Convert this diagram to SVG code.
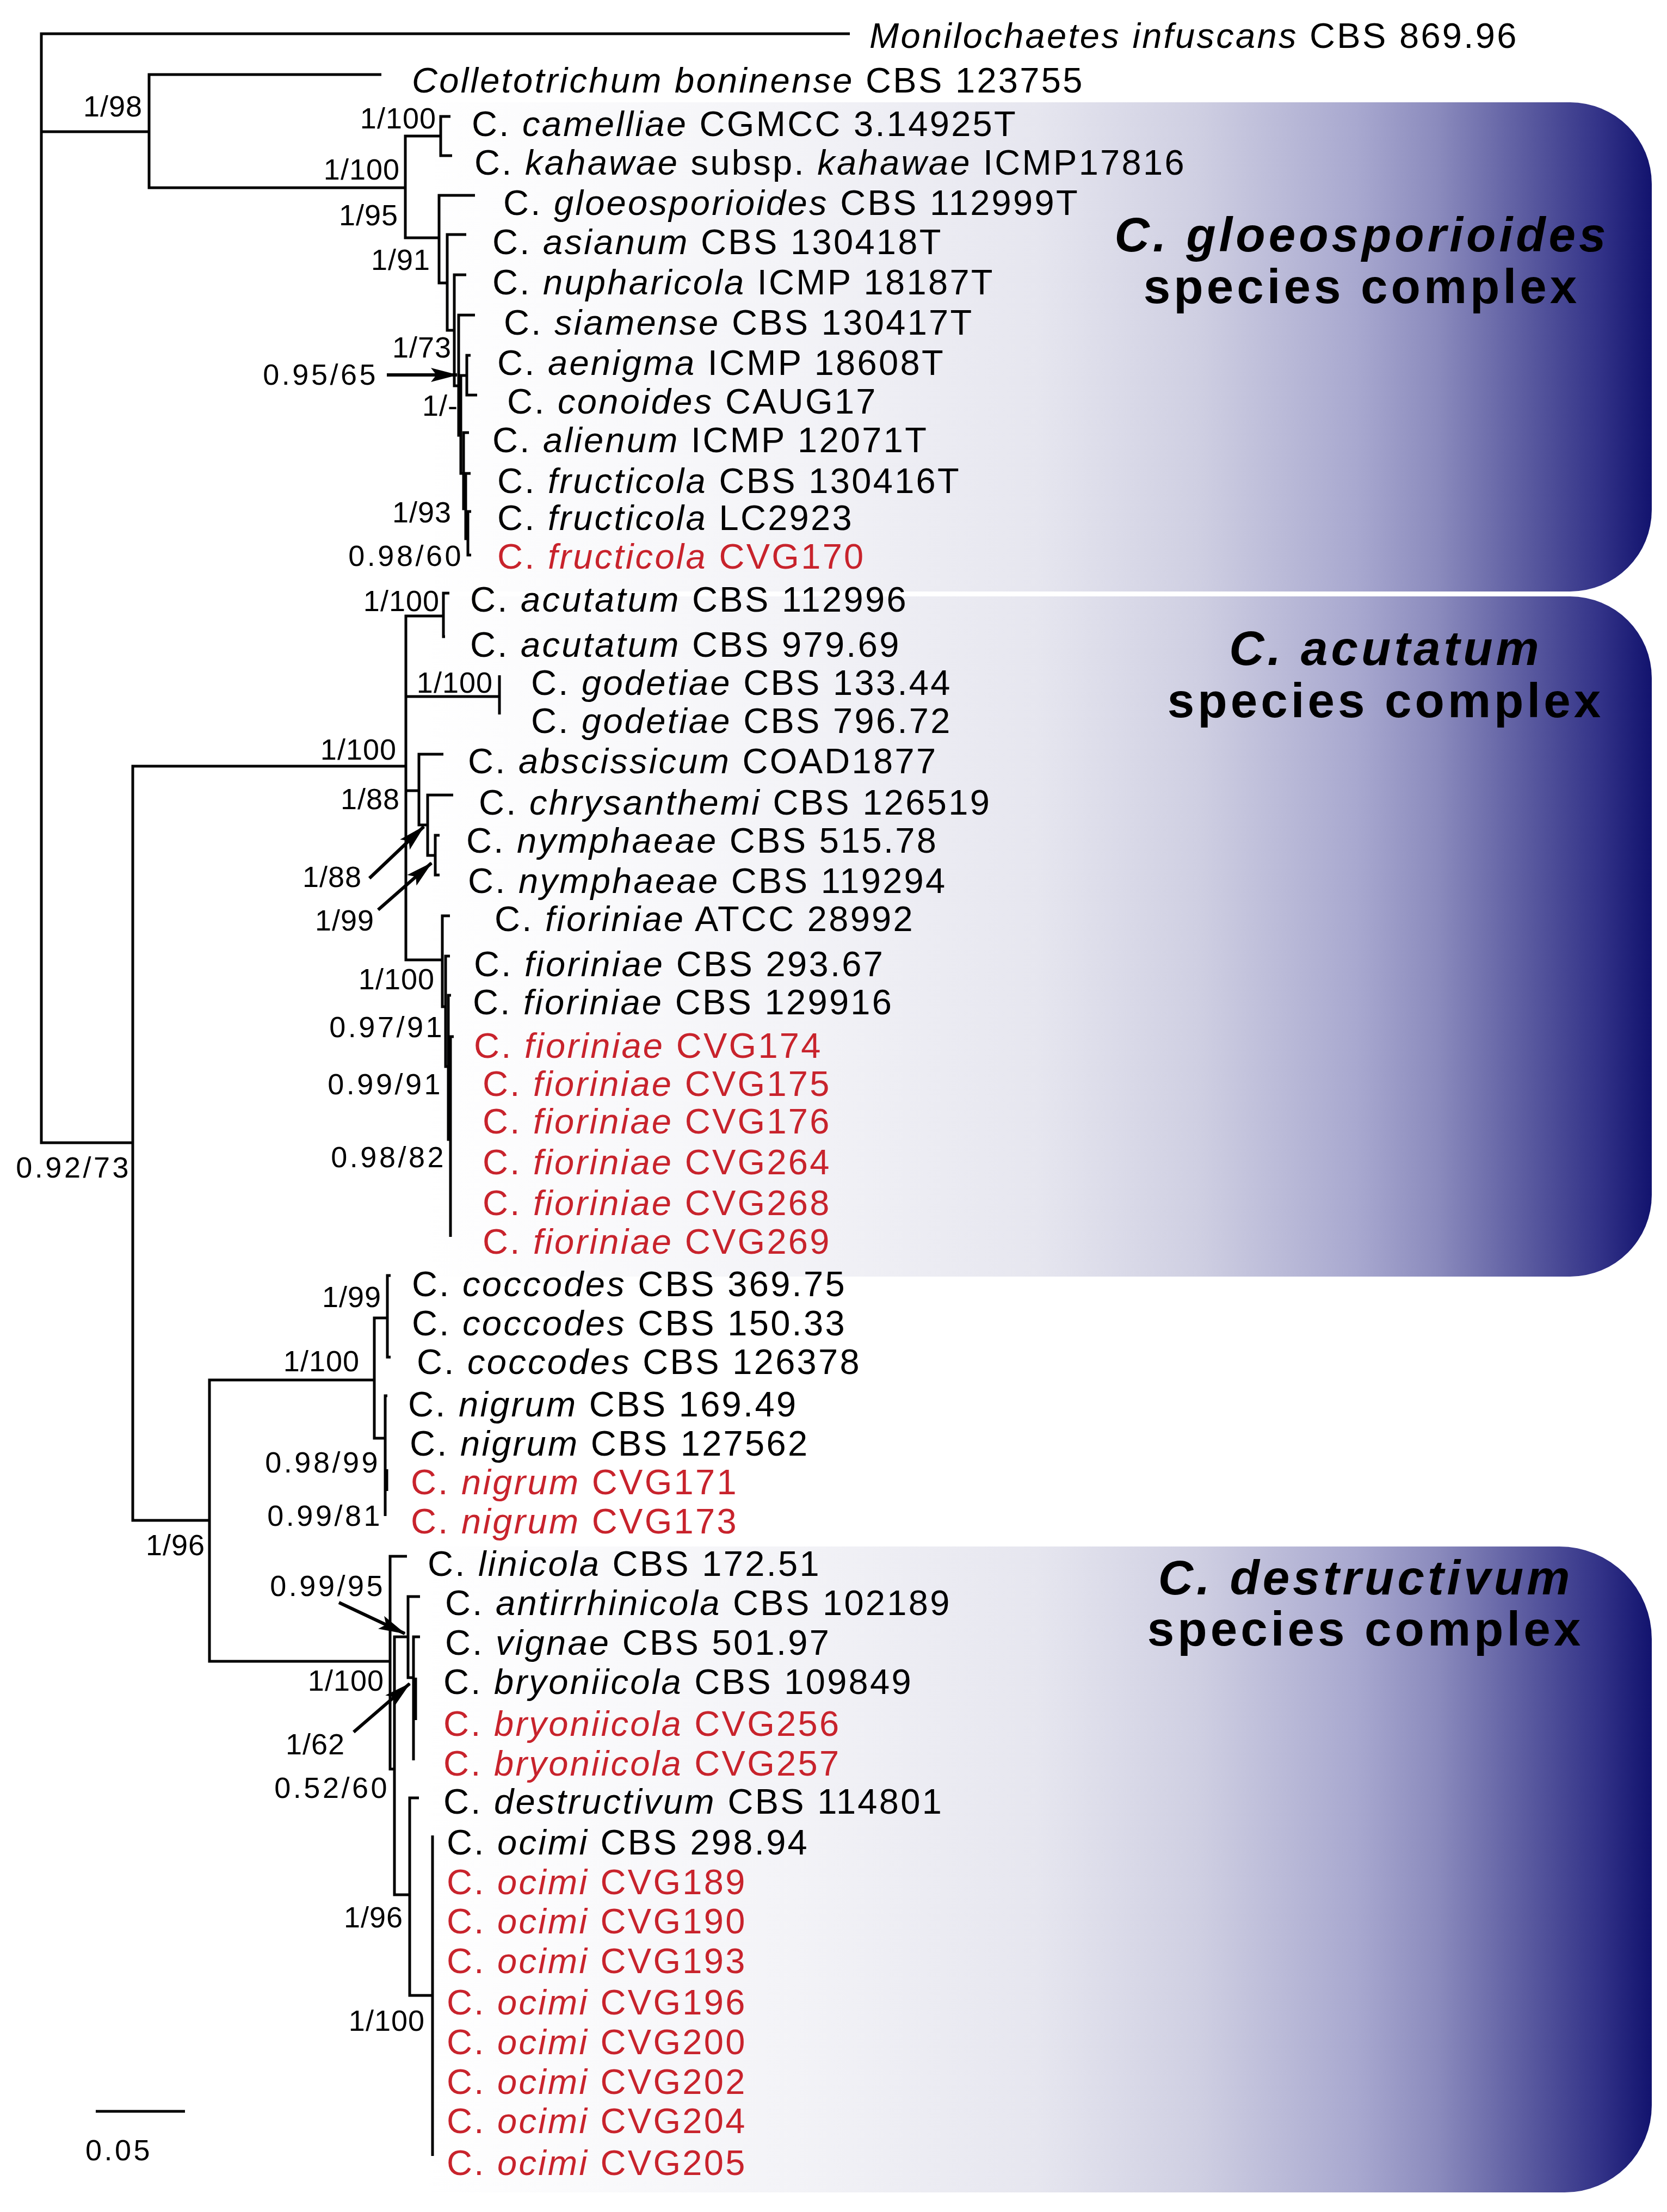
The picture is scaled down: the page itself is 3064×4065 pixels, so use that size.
<svg xmlns="http://www.w3.org/2000/svg" width="3064" height="4065" viewBox="0 0 3064 4065">
<style>
.br{stroke:#000;stroke-width:5;fill:none;stroke-linejoin:miter}
.ar{stroke:#000;stroke-width:6;fill:none}
.tip{font-family:"Liberation Sans",Arial,sans-serif;font-size:65px;letter-spacing:3.3px;fill:#000}
.red{fill:#c8232c}
.i{font-style:italic}
.sup{font-family:"Liberation Sans",Arial,sans-serif;font-size:54px;letter-spacing:1px;text-anchor:end;fill:#000}
.dec{letter-spacing:4.5px}
.ttl{font-family:"Liberation Sans",Arial,sans-serif;font-size:89px;font-weight:bold;letter-spacing:6px;text-anchor:middle;fill:#000}
.box{fill:url(#grad)}
</style>
<defs>
<linearGradient id="grad" gradientUnits="userSpaceOnUse" x1="780" y1="0" x2="3036" y2="0">
<stop offset="0" stop-color="#ffffff"/>
<stop offset="0.3" stop-color="#f3f3f7"/>
<stop offset="0.5" stop-color="#e6e6ef"/>
<stop offset="0.63" stop-color="#cfcfe2"/>
<stop offset="0.76" stop-color="#a8a8cf"/>
<stop offset="0.825" stop-color="#8b8bbd"/>
<stop offset="0.89" stop-color="#6060a3"/>
<stop offset="0.957" stop-color="#333388"/>
<stop offset="1" stop-color="#12136e"/>
</linearGradient>
<marker id="ah" viewBox="0 0 50 30" refX="48" refY="15" markerWidth="50" markerHeight="30" markerUnits="userSpaceOnUse" orient="auto">
<path d="M0,2 L50,15 L0,28 L10,15 Z" fill="#000"/>
</marker>
</defs>
<rect width="3064" height="4065" fill="#fff"/>
<g id="complex-boxes">
<g id="box-gloeosporioides">
<path class="box" d="M800,188 H2886 A150,150 0 0 1 3036,338 V937 A150,150 0 0 1 2886,1087 H800 Z"/>
<text class="ttl" x="2503" y="462"><tspan class="i">C. gloeosporioides</tspan></text>
<text class="ttl" x="2503" y="557">species complex</text>
</g>
<g id="box-acutatum">
<path class="box" d="M760,1096 H2886 A150,150 0 0 1 3036,1246 V2196 A150,150 0 0 1 2886,2346 H760 Z"/>
<text class="ttl" x="2547" y="1222"><tspan class="i">C. acutatum</tspan></text>
<text class="ttl" x="2547" y="1318">species complex</text>
</g>
<g id="box-destructivum">
<path class="box" d="M760,2842 H2866 A170,170 0 0 1 3036,3012 V3869 A160,160 0 0 1 2876,4029 H760 Z"/>
<text class="ttl" x="2510" y="2930"><tspan class="i">C. destructivum</tspan></text>
<text class="ttl" x="2510" y="3024">species complex</text>
</g>
</g>
<g id="connectors">
<path class="br" d="M1562,62 H76 V2100 H244"/>
<path class="br" d="M76,242 H274"/>
<path class="br" d="M701,137 H274 V345 H745"/>
<path class="br" d="M810,250 H745 V437 H807"/>
<path class="br" d="M828,214 H810 V286 H831"/>
<path class="br" d="M873,359 H807 V520 H822"/>
<path class="br" d="M857,431 H822 V607 H835"/>
<path class="br" d="M857,505 H835 V709 H843"/>
<path class="br" d="M873,579 H843 V800 H847"/>
<path class="br" d="M858,690 H847 V870 H852"/>
<path class="br" d="M865,653 H858 V726 H877"/>
<path class="br" d="M862,795 H852 V935 H856"/>
<path class="br" d="M865,870 H856 V990 H860"/>
<path class="br" d="M866,940 H860 V1020 H866"/>
<path class="br" d="M746,1408 H244 V2794 H385"/>
<path class="br" d="M815,1132 H746 V1764 H813"/>
<path class="br" d="M746,1280 H918"/>
<path class="br" d="M746,1453 H770"/>
<path class="br" d="M826,1090 H815 V1170 H818"/>
<path class="br" d="M918,1241 V1313"/>
<path class="br" d="M815,1386 H770 V1516 H786"/>
<path class="br" d="M833,1461 H786 V1572 H800"/>
<path class="br" d="M808,1535 H800 V1608 H808"/>
<path class="br" d="M827,1683 H813 V1850 H819"/>
<path class="br" d="M827,1757 H819 V1960 H824"/>
<path class="br" d="M829,1829 H824 V2094 H828"/>
<path class="br" d="M834,1905 H828 V2273"/>
<path class="br" d="M688,2536 H385 V3053 H717"/>
<path class="br" d="M712,2422 H688 V2643 H708"/>
<path class="br" d="M718,2344 H712 V2494 H718"/>
<path class="br" d="M712,2565 H708 V2786"/>
<path class="br" d="M711,2700 V2740"/>
<path class="br" d="M748,2860 H717 V3251 H725"/>
<path class="br" d="M750,3008 H725 V3482 H753"/>
<path class="br" d="M772,2934 H750 V3083 H760"/>
<path class="br" d="M772,3008 H760 V3235"/>
<path class="br" d="M764,3083 V3161"/>
<path class="br" d="M770,3304 H753 V3667 H795"/>
<path class="br" d="M795,3373 V3962"/>
<line class="ar" x1="711" y1="689" x2="840" y2="689" marker-end="url(#ah)"/>
<line class="ar" x1="679" y1="1614" x2="779" y2="1519" marker-end="url(#ah)"/>
<line class="ar" x1="695" y1="1672" x2="793" y2="1586" marker-end="url(#ah)"/>
<line class="ar" x1="623" y1="2945" x2="744" y2="3002" marker-end="url(#ah)"/>
<line class="ar" x1="650" y1="3183" x2="753" y2="3094" marker-end="url(#ah)"/>
<path class="br" d="M176,3880 H340"/>
</g>
<g id="support-values">
<text class="sup" x="262" y="214">1/98</text>
<text class="sup" x="802" y="236">1/100</text>
<text class="sup" x="735" y="330">1/100</text>
<text class="sup" x="732" y="414">1/95</text>
<text class="sup" x="791" y="496">1/91</text>
<text class="sup" x="830" y="657">1/73</text>
<text class="sup dec" x="695" y="707">0.95/65</text>
<text class="sup" x="842" y="764">1/-</text>
<text class="sup" x="830" y="960">1/93</text>
<text class="sup dec" x="852" y="1040">0.98/60</text>
<text class="sup" x="808" y="1123">1/100</text>
<text class="sup" x="906" y="1273">1/100</text>
<text class="sup" x="729" y="1396">1/100</text>
<text class="sup" x="735" y="1487">1/88</text>
<text class="sup" x="665" y="1630">1/88</text>
<text class="sup" x="688" y="1710">1/99</text>
<text class="sup" x="799" y="1818">1/100</text>
<text class="sup dec" x="817" y="1906">0.97/91</text>
<text class="sup dec" x="814" y="2011">0.99/91</text>
<text class="sup dec" x="820" y="2145">0.98/82</text>
<text class="sup dec" x="241" y="2164">0.92/73</text>
<text class="sup" x="701" y="2402">1/99</text>
<text class="sup" x="661" y="2520">1/100</text>
<text class="sup dec" x="699" y="2706">0.98/99</text>
<text class="sup dec" x="703" y="2804">0.99/81</text>
<text class="sup" x="377" y="2858">1/96</text>
<text class="sup dec" x="708" y="2933">0.99/95</text>
<text class="sup" x="706" y="3107">1/100</text>
<text class="sup" x="634" y="3224">1/62</text>
<text class="sup dec" x="716" y="3304">0.52/60</text>
<text class="sup" x="741" y="3542">1/96</text>
<text class="sup" x="781" y="3732">1/100</text>
<text class="sup dec" x="280" y="3970">0.05</text>
</g>
<g id="taxa">
<g id="t-monilochaetes"><text class="tip" x="1598" y="88"><tspan class="i">Monilochaetes infuscans</tspan> CBS 869.96</text></g>
<g id="t-boninense"><text class="tip" x="757" y="170"><tspan class="i">Colletotrichum boninense</tspan> CBS 123755</text></g>
<g id="t-camelliae"><text class="tip" x="867" y="250">C. <tspan class="i">camelliae</tspan> CGMCC 3.14925T</text></g>
<g id="t-kahawae"><text class="tip" x="872" y="321">C. <tspan class="i">kahawae</tspan> subsp. <tspan class="i">kahawae</tspan> ICMP17816</text></g>
<g id="t-gloeosporioides"><text class="tip" x="925" y="395">C. <tspan class="i">gloeosporioides</tspan> CBS 112999T</text></g>
<g id="t-asianum"><text class="tip" x="905" y="467">C. <tspan class="i">asianum</tspan> CBS 130418T</text></g>
<g id="t-nupharicola"><text class="tip" x="905" y="541">C. <tspan class="i">nupharicola</tspan> ICMP 18187T</text></g>
<g id="t-siamense"><text class="tip" x="926" y="615">C. <tspan class="i">siamense</tspan> CBS 130417T</text></g>
<g id="t-aenigma"><text class="tip" x="914" y="689">C. <tspan class="i">aenigma</tspan> ICMP 18608T</text></g>
<g id="t-conoides"><text class="tip" x="932" y="760">C. <tspan class="i">conoides</tspan> CAUG17</text></g>
<g id="t-alienum"><text class="tip" x="905" y="831">C. <tspan class="i">alienum</tspan> ICMP 12071T</text></g>
<g id="t-fructicola-cbs"><text class="tip" x="914" y="906">C. <tspan class="i">fructicola</tspan> CBS 130416T</text></g>
<g id="t-fructicola-lc"><text class="tip" x="914" y="974">C. <tspan class="i">fructicola</tspan> LC2923</text></g>
<g id="t-fructicola-cvg170"><text class="tip red" x="914" y="1045">C. <tspan class="i">fructicola</tspan> CVG170</text></g>
<g id="t-acutatum-1"><text class="tip" x="864" y="1124">C. <tspan class="i">acutatum</tspan> CBS 112996</text></g>
<g id="t-acutatum-2"><text class="tip" x="864" y="1207">C. <tspan class="i">acutatum</tspan> CBS 979.69</text></g>
<g id="t-godetiae-1"><text class="tip" x="976" y="1277">C. <tspan class="i">godetiae</tspan> CBS 133.44</text></g>
<g id="t-godetiae-2"><text class="tip" x="976" y="1347">C. <tspan class="i">godetiae</tspan> CBS 796.72</text></g>
<g id="t-abscissicum"><text class="tip" x="860" y="1421">C. <tspan class="i">abscissicum</tspan> COAD1877</text></g>
<g id="t-chrysanthemi"><text class="tip" x="880" y="1497">C. <tspan class="i">chrysanthemi</tspan> CBS 126519</text></g>
<g id="t-nymphaeae-1"><text class="tip" x="857" y="1567">C. <tspan class="i">nymphaeae</tspan> CBS 515.78</text></g>
<g id="t-nymphaeae-2"><text class="tip" x="860" y="1641">C. <tspan class="i">nymphaeae</tspan> CBS 119294</text></g>
<g id="t-fioriniae-atcc"><text class="tip" x="909" y="1711">C. <tspan class="i">fioriniae</tspan> ATCC 28992</text></g>
<g id="t-fioriniae-293"><text class="tip" x="871" y="1794">C. <tspan class="i">fioriniae</tspan> CBS 293.67</text></g>
<g id="t-fioriniae-129916"><text class="tip" x="869" y="1864">C. <tspan class="i">fioriniae</tspan> CBS 129916</text></g>
<g id="t-fioriniae-cvg174"><text class="tip red" x="871" y="1944">C. <tspan class="i">fioriniae</tspan> CVG174</text></g>
<g id="t-fioriniae-cvg175"><text class="tip red" x="887" y="2014">C. <tspan class="i">fioriniae</tspan> CVG175</text></g>
<g id="t-fioriniae-cvg176"><text class="tip red" x="887" y="2083">C. <tspan class="i">fioriniae</tspan> CVG176</text></g>
<g id="t-fioriniae-cvg264"><text class="tip red" x="887" y="2158">C. <tspan class="i">fioriniae</tspan> CVG264</text></g>
<g id="t-fioriniae-cvg268"><text class="tip red" x="887" y="2233">C. <tspan class="i">fioriniae</tspan> CVG268</text></g>
<g id="t-fioriniae-cvg269"><text class="tip red" x="887" y="2304">C. <tspan class="i">fioriniae</tspan> CVG269</text></g>
<g id="t-coccodes-1"><text class="tip" x="757" y="2382">C. <tspan class="i">coccodes</tspan> CBS 369.75</text></g>
<g id="t-coccodes-2"><text class="tip" x="757" y="2454">C. <tspan class="i">coccodes</tspan> CBS 150.33</text></g>
<g id="t-coccodes-3"><text class="tip" x="766" y="2525">C. <tspan class="i">coccodes</tspan> CBS 126378</text></g>
<g id="t-nigrum-1"><text class="tip" x="750" y="2603">C. <tspan class="i">nigrum</tspan> CBS 169.49</text></g>
<g id="t-nigrum-2"><text class="tip" x="753" y="2675">C. <tspan class="i">nigrum</tspan> CBS 127562</text></g>
<g id="t-nigrum-cvg171"><text class="tip red" x="755" y="2746">C. <tspan class="i">nigrum</tspan> CVG171</text></g>
<g id="t-nigrum-cvg173"><text class="tip red" x="755" y="2818">C. <tspan class="i">nigrum</tspan> CVG173</text></g>
<g id="t-linicola"><text class="tip" x="786" y="2896">C. <tspan class="i">linicola</tspan> CBS 172.51</text></g>
<g id="t-antirrhinicola"><text class="tip" x="818" y="2968">C. <tspan class="i">antirrhinicola</tspan> CBS 102189</text></g>
<g id="t-vignae"><text class="tip" x="818" y="3041">C. <tspan class="i">vignae</tspan> CBS 501.97</text></g>
<g id="t-bryoniicola-cbs"><text class="tip" x="815" y="3113">C. <tspan class="i">bryoniicola</tspan> CBS 109849</text></g>
<g id="t-bryoniicola-cvg256"><text class="tip red" x="815" y="3190">C. <tspan class="i">bryoniicola</tspan> CVG256</text></g>
<g id="t-bryoniicola-cvg257"><text class="tip red" x="815" y="3263">C. <tspan class="i">bryoniicola</tspan> CVG257</text></g>
<g id="t-destructivum"><text class="tip" x="815" y="3333">C. <tspan class="i">destructivum</tspan> CBS 114801</text></g>
<g id="t-ocimi-cbs"><text class="tip" x="821" y="3408">C. <tspan class="i">ocimi</tspan> CBS 298.94</text></g>
<g id="t-ocimi-cvg189"><text class="tip red" x="821" y="3481">C. <tspan class="i">ocimi</tspan> CVG189</text></g>
<g id="t-ocimi-cvg190"><text class="tip red" x="821" y="3553">C. <tspan class="i">ocimi</tspan> CVG190</text></g>
<g id="t-ocimi-cvg193"><text class="tip red" x="821" y="3626">C. <tspan class="i">ocimi</tspan> CVG193</text></g>
<g id="t-ocimi-cvg196"><text class="tip red" x="821" y="3702">C. <tspan class="i">ocimi</tspan> CVG196</text></g>
<g id="t-ocimi-cvg200"><text class="tip red" x="821" y="3775">C. <tspan class="i">ocimi</tspan> CVG200</text></g>
<g id="t-ocimi-cvg202"><text class="tip red" x="821" y="3848">C. <tspan class="i">ocimi</tspan> CVG202</text></g>
<g id="t-ocimi-cvg204"><text class="tip red" x="821" y="3920">C. <tspan class="i">ocimi</tspan> CVG204</text></g>
<g id="t-ocimi-cvg205"><text class="tip red" x="821" y="3997">C. <tspan class="i">ocimi</tspan> CVG205</text></g>
</g>
</svg>
